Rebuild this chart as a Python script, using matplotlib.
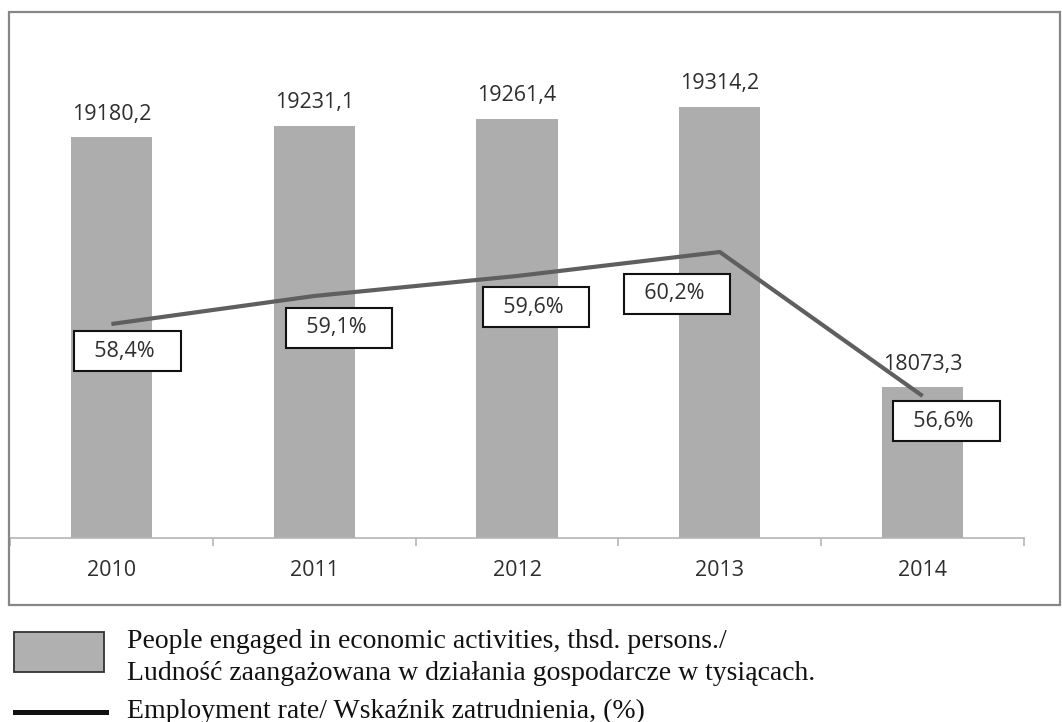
import matplotlib.pyplot as plt
from matplotlib.patches import Rectangle
from matplotlib.lines import Line2D

# --- data ---
years = ["2010", "2011", "2012", "2013", "2014"]
people = [19180.2, 19231.1, 19261.4, 19314.2, 18073.3]
people_labels = ["19180,2", "19231,1", "19261,4", "19314,2", "18073,3"]
rate = [58.4, 59.1, 59.6, 60.2, 56.6]
rate_labels = ["58,4%", "59,1%", "59,6%", "60,2%", "56,6%"]

# label box offsets from the line point (pixels)
box_offsets = [(16, -27), (25, -32), (19, -31), (-43, -42), (24, -25)]

W, H = 1062, 722
fig = plt.figure(figsize=(W / 100, H / 100), dpi=100)
fig.patch.set_facecolor("white")

def fx(px):
    return px / W

def fy(py):
    return 1 - py / H

# outer frame
fig.patches.append(Rectangle((fx(9), fy(605)), fx(1060) - fx(9), fy(12) - fy(605),
                             transform=fig.transFigure, fill=False,
                             edgecolor="#878787", linewidth=1.6))

# plot area: bottom at y=538, top at y=30, x from 10 to 1024
ax = fig.add_axes([fx(10), fy(538), fx(1024) - fx(10), fy(30) - fy(538)])
ax.set_facecolor("none")
x = list(range(len(years)))

ax.bar(x, people, width=0.4, color="#adadad", zorder=1)
ax.set_xlim(-0.5, 4.5)
ax.set_ylim(17404.8, 19654)

for xi, v, lab in zip(x, people, people_labels):
    ax.annotate(lab, (xi, v), xytext=(0, 23), textcoords="offset pixels",
                ha="center", va="center", fontsize=15.5, family="Open Sans",
                color="#2e2e2e")

for s in ["top", "left", "right"]:
    ax.spines[s].set_visible(False)
ax.spines["bottom"].set_color("#b5b5b5")
ax.spines["bottom"].set_linewidth(1.2)
ax.set_yticks([])
ax.set_xticks(x)
ax.set_xticklabels(years, fontsize=15.5, family="Open Sans", color="#2e2e2e")
ax.tick_params(axis="x", which="major", length=0, pad=16)
ax.set_xticks([i - 0.5 for i in range(len(years) + 1)], minor=True)
ax.tick_params(axis="x", which="minor", length=6, width=1.2, color="#b5b5b5",
               direction="out")

# line on secondary axis
ax2 = ax.twinx()
ax2.set_ylim(53.05, 65.75)
ax2.plot(x, rate, color="#5f5f5f", linewidth=3, solid_capstyle="butt", zorder=3)
ax2.set_yticks([])
for s in ["top", "left", "right", "bottom"]:
    ax2.spines[s].set_visible(False)

for xi, v, lab, off in zip(x, rate, rate_labels, box_offsets):
    ax2.annotate("  " + lab + "   ", (xi, v), xytext=off, textcoords="offset pixels",
                 ha="center", va="center", fontsize=15.5, family="Open Sans",
                 color="#2e2e2e",
                 bbox=dict(boxstyle="square,pad=0.42", facecolor="white",
                           edgecolor="#111111", linewidth=1.5))

# legend drawn below the chart frame
fig.patches.append(Rectangle((fx(14), fy(672)), fx(104) - fx(14), fy(632) - fy(672),
                             transform=fig.transFigure, facecolor="#b0b0b0",
                             edgecolor="#333333", linewidth=1.3))
fig.lines.append(Line2D([fx(15), fx(106)], [fy(712), fy(712)],
                        transform=fig.transFigure, color="#111111", linewidth=3.6))

legend_font = dict(fontsize=20, family="Liberation Serif", color="#111111",
                   va="baseline", ha="left")
fig.text(fx(127), fy(648), "People engaged in economic activities, thsd. persons./", **legend_font)
fig.text(fx(127), fy(680), "Ludność zaangażowana w działania gospodarcze w tysiącach.", **legend_font)
fig.text(fx(127), fy(718), "Employment rate/ Wskaźnik zatrudnienia, (%)", **legend_font)

fig.savefig("out.png", dpi=100)
